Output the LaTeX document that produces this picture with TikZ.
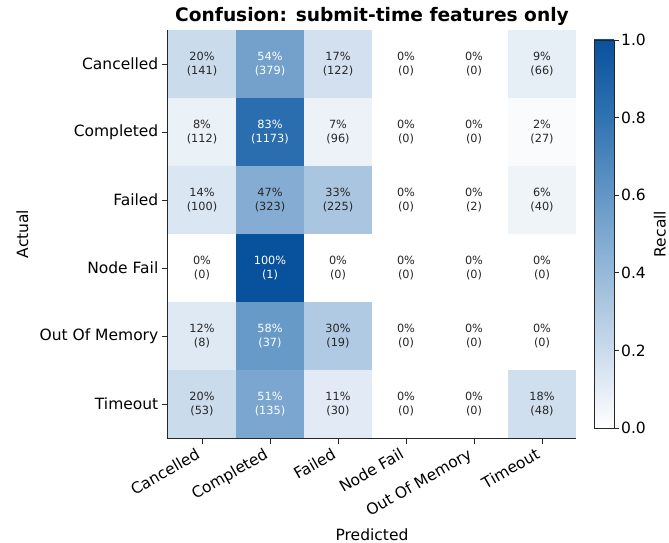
\documentclass[tikz,border=0pt]{standalone}
\usepackage{fontspec}
\setmainfont{DejaVu Sans}
\usepackage{tikz}
\usepackage{pgfplots}
\pgfplotsset{compat=1.18}
\usetikzlibrary{positioning}

\definecolor{textdark}{RGB}{38,38,38}
\definecolor{cmA}{RGB}{255,255,255}
\definecolor{cmB}{RGB}{202,219,236}
\definecolor{cmC}{RGB}{125,168,208}
\definecolor{cmD}{RGB}{48,115,178}
\definecolor{cmE}{RGB}{8,81,156}

\pgfplotsset{colormap={recallmap}{color(0cm)=(cmA); color(2cm)=(cmB); color(5cm)=(cmC); color(8cm)=(cmD); color(10cm)=(cmE)}}
\pgfdeclareverticalshading{recallbar}{100bp}{color(0bp)=(cmA); color(25bp)=(cmA); color(35bp)=(cmB); color(50bp)=(cmC); color(65bp)=(cmD); color(75bp)=(cmE); color(100bp)=(cmE)}

\begin{document}
\begin{tikzpicture}[x=1pt,y=-1pt]
\tikzset{
  cell/.style={minimum width=68.4pt, minimum height=68.4pt, inner sep=0pt, align=center,
    font=\fontsize{11.3}{13.2}\selectfont},
  ticklab/.style={font=\fontsize{15.5}{18}\selectfont, inner sep=0pt},
  tickmark/.style={line width=0.9pt, textdark}
}
\useasboundingbox (0,0) rectangle (669,543);

% -------- title ----------
\node[font=\bfseries\fontsize{18.6}{22}\selectfont] (title) at (372,16) {Confusion: submit-time features only};

% -------- cells ----------
\foreach \r/\vals in {%
  0/{20/141,54/379,17/122,0/0,0/0,9/66},
  1/{8/112,83/1173,7/96,0/0,0/0,2/27},
  2/{14/100,47/323,33/225,0/0,0/2,6/40},
  3/{0/0,100/1,0/0,0/0,0/0,0/0},
  4/{12/8,58/37,30/19,0/0,0/0,0/0},
  5/{20/53,51/135,11/30,0/0,0/0,18/48}}{
  \foreach \p/\n [count=\c from 0] in \vals {
    \pgfplotscolormapaccess[0:100]{\p}{recallmap}
    \def\tmp{\definecolor{cellfill}{rgb}}\expandafter\tmp\expandafter{\pgfmathresult}
    \ifnum\p>49 \def\tc{white}\else\def\tc{textdark}\fi
    \node[cell, fill=cellfill, text=\tc] (cell-\r-\c) at (202+68*\c, 64+68*\r) {\p\%\\(\n)};
  }
}

% -------- axes ----------
\draw[line width=1pt, textdark] (167.5,30) -- (167.5,438.5) -- (576,438.5);
\foreach \r/\lab in {0/Cancelled,1/Completed,2/Failed,3/Node Fail,4/Out Of Memory,5/Timeout}{
  \draw[tickmark] (162,64+68*\r) -- (167.5,64+68*\r);
  \node[ticklab, anchor=east] (ylab-\r) at (158.5,64+68*\r) {\lab};
}
\foreach \c/\lab in {0/Cancelled,1/Completed,2/Failed,3/Node Fail,4/Out Of Memory,5/Timeout}{
  \draw[tickmark] (202+68*\c,438.5) -- (202+68*\c,444);
  \node[ticklab, rotate=30, anchor=north east] (xlab-\c) at (195+68*\c,447) {\lab};
}
\node[ticklab, anchor=base] (xtitle) at (372,540) {Predicted};
\node[ticklab, rotate=90, anchor=base] (ytitle) at (28,234) {Actual};

% -------- colorbar ----------
\shade[shading=recallbar] (594,40) rectangle (614,428);
\draw[line width=0.8pt, textdark] (594,40) rectangle (614,428);
\foreach \v in {0.0,0.2,0.4,0.6,0.8,1.0}{
  \draw[tickmark] (614,428-388*\v) -- (619,428-388*\v);
  \node[ticklab, anchor=west] (cb-\v) at (621,428-388*\v) {\v};
}
\node[ticklab, rotate=90, anchor=base] (cbtitle) at (665.5,234) {Recall};
\end{tikzpicture}
\end{document}
